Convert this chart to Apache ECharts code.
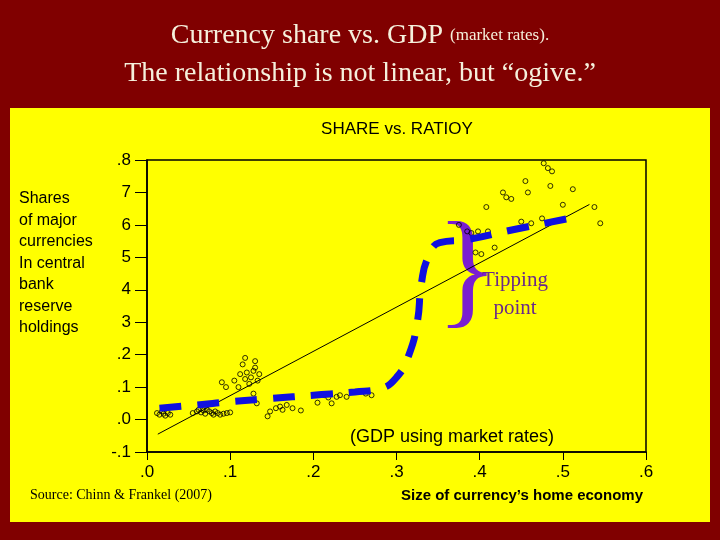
<!DOCTYPE html>
<html><head><meta charset="utf-8">
<script src="https://cdn.jsdelivr.net/npm/echarts@6/dist/echarts.min.js"></script>
<style>body{margin:0;background:#800000}#c{width:720px;height:540px}</style>
</head><body><div id="c"></div>
<script>
// y tick labels as printed on the slide
var yLabels = ['-.1', '.0', '.1', '.2', '3', '4', '5', '6', '7', '.8'];
var xLabels = ['.0', '.1', '.2', '.3', '.4', '.5', '.6'];
// scatter (ratio, share)
var points = [
  [0.012,0.02],[0.015,0.015],[0.018,0.025],[0.02,0.018],[0.022,0.012],[0.025,0.02],[0.028,0.015],
  [0.055,0.02],[0.06,0.025],[0.062,0.03],[0.065,0.022],[0.068,0.028],[0.07,0.018],[0.072,0.03],[0.075,0.025],
  [0.078,0.02],[0.08,0.015],[0.082,0.025],[0.085,0.02],[0.088,0.015],[0.092,0.018],[0.096,0.02],[0.1,0.022],
  [0.09,0.115],[0.095,0.1],[0.105,0.12],[0.11,0.1],[0.112,0.14],[0.115,0.17],[0.118,0.125],[0.12,0.145],
  [0.123,0.11],[0.125,0.13],[0.128,0.15],[0.13,0.16],[0.133,0.12],[0.135,0.14],[0.118,0.19],[0.13,0.18],
  [0.128,0.08],[0.132,0.05],
  [0.145,0.01],[0.148,0.025],[0.155,0.035],[0.16,0.04],[0.163,0.03],[0.168,0.045],[0.175,0.035],[0.185,0.028],
  [0.205,0.052],[0.213,0.075],[0.218,0.068],[0.222,0.05],[0.228,0.07],[0.232,0.075],[0.24,0.07],[0.263,0.08],[0.27,0.075],
  [0.375,0.6],[0.385,0.58],[0.39,0.575],[0.398,0.58],[0.395,0.515],[0.402,0.51],[0.41,0.58],[0.418,0.53],
  [0.408,0.655],[0.428,0.7],[0.432,0.685],[0.438,0.68],[0.45,0.61],[0.455,0.735],[0.458,0.7],
  [0.438,0.82],[0.462,0.605],[0.475,0.62],[0.477,0.79],[0.482,0.775],[0.485,0.72],[0.487,0.765],[0.5,0.662],
  [0.512,0.71],[0.538,0.655],[0.545,0.605]
];
// fitted straight line endpoints
var fitLine = [[0.013,-0.045],[0.532,0.663]];
// hand-drawn ogive
var ogive = [[0.015,0.035],[0.06,0.045],[0.1,0.055],[0.15,0.065],[0.2,0.075],[0.25,0.085],[0.28,0.095],
  [0.3,0.13],[0.315,0.2],[0.325,0.3],[0.33,0.42],[0.338,0.5],[0.352,0.545],[0.385,0.555],[0.44,0.585],[0.512,0.622]];

var chart = echarts.init(document.getElementById('c'));
var axisFont = {fontFamily:'Liberation Sans', fontSize:17, color:'#000'};
chart.setOption({
  backgroundColor:'#800000',
  animation:false,
  graphic:[
    {type:'rect', shape:{x:10,y:108,width:700,height:414}, style:{fill:'#ffff00'}, z:-10},
    {type:'text', left:'center', top:22, style:{text:'Currency share vs. GDP {s|(market rates).}', fill:'#f5f0dc', font:'28px "Liberation Serif"', rich:{s:{fontSize:17,fontFamily:'Liberation Serif',fill:'#f5f0dc'}}}},
    {type:'text', left:'center', top:60, style:{text:'The relationship is not linear, but \u201cogive.\u201d', fill:'#f5f0dc', font:'28px "Liberation Serif"'}},
    {type:'text', x:397, y:121, style:{text:'SHARE vs. RATIOY', fill:'#000', font:'17px "Liberation Sans"', align:'center'}},
    {type:'text', x:19, y:188, style:{text:'Shares\nof major\ncurrencies\nIn central\nbank\nreserve\nholdings', fill:'#000', font:'16px "Liberation Sans"', lineHeight:21.5}},
    {type:'text', x:452, y:428, style:{text:'(GDP using market rates)', fill:'#000', font:'18px "Liberation Sans"', align:'center'}},
    {type:'text', x:30, y:488, style:{text:'Source: Chinn & Frankel (2007)', fill:'#000', font:'14px "Liberation Serif"'}},
    {type:'text', x:522, y:488, style:{text:'Size of currency\u2019s home economy', fill:'#000', font:'bold 15px "Liberation Sans"', align:'center'}},
    {type:'text', x:436, y:212, style:{text:'}', fill:'#7a1fd0', font:'130px "Liberation Serif"'}},
    {type:'text', x:515, y:266, style:{text:'Tipping\npoint', fill:'#6a2a8a', font:'21px "Liberation Serif"', align:'center', lineHeight:28}}
  ],
  grid:{left:147, top:160, width:499, height:292, show:true, borderColor:'#000', borderWidth:1.5},
  xAxis:{type:'value', min:0, max:0.6, interval:0.1,
    axisLine:{onZero:false, lineStyle:{color:'#000',width:1.5}}, axisTick:{inside:false,length:8,lineStyle:{color:'#000'}},
    splitLine:{show:false},
    axisLabel:Object.assign({margin:12, formatter:function(v){return xLabels[Math.round(v*10)];}}, axisFont)},
  yAxis:{type:'value', min:-0.1, max:0.8, interval:0.1,
    axisLine:{onZero:false, lineStyle:{color:'#000',width:1.5}}, axisTick:{length:12,lineStyle:{color:'#000'}},
    splitLine:{show:false},
    axisLabel:Object.assign({margin:16, formatter:function(v){return yLabels[Math.round(v*10)+1];}}, axisFont)},
  series:[
    {type:'line', data:fitLine, symbol:'none', lineStyle:{color:'#000',width:1}, z:2},
    {type:'scatter', data:points, symbol:'circle', symbolSize:5,
      itemStyle:{color:'transparent', borderColor:'#000', borderWidth:1}, z:3},
    {type:'line', data:ogive, smooth:0.5, symbol:'none',
      lineStyle:{color:'#1010e0', width:7, type:[22,16]}, z:4}
  ]
});
</script></body></html>
